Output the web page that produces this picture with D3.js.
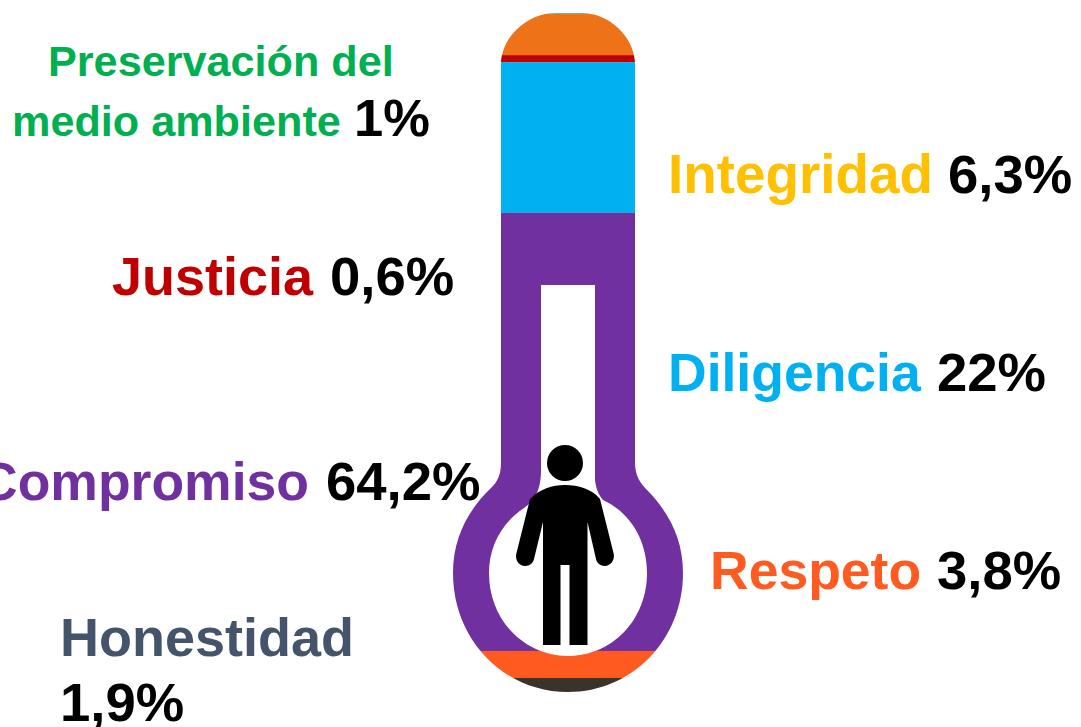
<!DOCTYPE html>
<html>
<head>
<meta charset="utf-8">
<style>
  html, body { margin: 0; padding: 0; background: #fff; overflow: hidden; }
  text { font-family: "Liberation Sans", sans-serif; font-weight: 700; }
</style>
<script src="https://cdn.jsdelivr.net/npm/d3@7"></script>
</head>
<body>
<svg id="chart" width="1081" height="727"></svg>
<script>
// bands run top to bottom inside the thermometer
const bandNames  = ['Preservación del medio ambiente', 'Integridad', 'Justicia', 'Diligencia', 'Compromiso', 'Respeto', 'Honestidad'];
const bandColors = ['#6cbf84', '#ee7318', '#c00000', '#00b0f0', '#7030a0', '#ff5a1f', '#3b322c'];
// band heights as drawn in the picture, in percent (they do not quite follow the printed figures)
const bandHeights = [0.15, 6.05, 1.03, 22.2, 64.5, 3.98, 2.06];

const labelNames  = ['Integridad', 'Justicia', 'Diligencia', 'Compromiso', 'Respeto'];
const labelValues = ['6,3%', '0,6%', '22%', '64,2%', '3,8%'];
const labelColors = ['#ffc000', '#c00000', '#00b0f0', '#7030a0', '#ff5a1f'];

const svg = d3.select('#chart');
const defs = svg.append('defs');

const y = d3.scaleLinear().domain([0, d3.sum(bandHeights)]).range([13, 692]);

// outer silhouette
const outer = 'M501,62 C503,34 530,13 555,13 L582,13 C607,13 633,34 635,62 L635,462 ' +
  'C635,476 640,483 648,491 C670,514 683,540 683,573 C683,640 632,692 568,692 ' +
  'C504,692 453,640 453,573 C453,536 470,508 491,488 C497,482 501,476 501,462 Z';
defs.append('clipPath').attr('id', 'bulb').append('path').attr('d', outer);

const bands = svg.append('g').attr('clip-path', 'url(#bulb)');
let acc = 0;
bandHeights.forEach((h, i) => {
  bands.append('rect')
    .attr('x', 440).attr('width', 260)
    .attr('y', y(acc)).attr('height', y(acc + h) - y(acc))
    .attr('fill', bandColors[i]);
  acc += h;
});

// hollow part of the tube and the bulb
svg.append('path')
  .attr('fill', '#fff')
  .attr('d', 'M541,285 L595,285 L595,480 C596,488 598,494 603,500 ' +
    'C631,513 647,541 647,573 C647,620 612,656 568,656 C524,656 489,620 489,573 ' +
    'C489,545 503,522 524,508 C535,500 541,490 541,470 Z');

// person
const person = svg.append('g').attr('fill', '#000');
person.append('circle').attr('cx', 565).attr('cy', 463).attr('r', 18);
person.append('path')
  .attr('d', 'M530,499 C540,489 552,485 565,485 C578,485 592,489 600,499 ' +
    'L613.5,553 C615.5,560 610,566 605,566 C600,566 597,563 596,559 L587.5,522 ' +
    'L587.5,645 L569.5,645 L569.5,565 L560.5,565 L560.5,645 L543,645 L543,522 ' +
    'L534,559 C533,563 530,566 525,566 C519,566 514.5,560 516.5,553 Z');

// labels: the name and its figure are placed separately, the names vary a little in size
const nameX = [668, 112, 668, -21, 710];
const nameSize = [54.8, 54, 53.5, 53.5, 53.5];
const valueX = [948, 330, 937, 326, 937];
const baseY = [193, 295, 391, 500, 589];
labelNames.forEach((n, i) => {
  svg.append('text').attr('x', nameX[i]).attr('y', baseY[i]).attr('font-size', nameSize[i])
    .attr('fill', labelColors[i]).text(n);
  svg.append('text').attr('x', valueX[i]).attr('y', baseY[i]).attr('font-size', 54.5)
    .attr('fill', '#000').text(labelValues[i]);
});

// green label spans two lines with a smaller name
svg.append('text').attr('x', 48).attr('y', 76).attr('font-size', 43.2)
  .attr('fill', '#00b050').text('Preservación del');
svg.append('text').attr('x', 12).attr('y', 136).attr('font-size', 43.2)
  .attr('fill', '#00b050').text('medio ambiente');
svg.append('text').attr('x', 354).attr('y', 136).attr('font-size', 52.5)
  .attr('fill', '#000').text('1%');

// slate label, two lines
svg.append('text').attr('x', 60).attr('y', 656).attr('font-size', 54)
  .attr('fill', '#44546a').text('Honestidad');
svg.append('text').attr('x', 60).attr('y', 721).attr('font-size', 54.5)
  .attr('fill', '#000').text('1,9%');
</script>
</body>
</html>
